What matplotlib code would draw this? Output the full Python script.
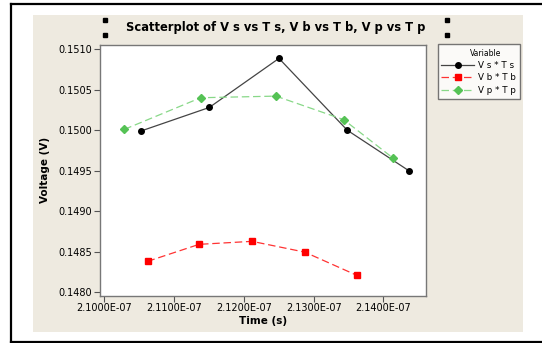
import matplotlib
matplotlib.use("Agg")
import matplotlib.pyplot as plt
from matplotlib.lines import Line2D
from matplotlib.patches import Rectangle
from matplotlib.ticker import FuncFormatter

# data
t_s = [2.10526e-7, 2.11504e-7, 2.12503e-7, 2.13481e-7, 2.14365e-7]
v_s = [0.14999, 0.15028, 0.150885, 0.15000, 0.14950]

t_b = [2.10619e-7, 2.11358e-7, 2.12117e-7, 2.12873e-7, 2.13622e-7]
v_b = [0.148383, 0.148593, 0.148630, 0.148497, 0.148210]

t_p = [2.10287e-7, 2.11381e-7, 2.12460e-7, 2.13430e-7, 2.14132e-7]
v_p = [0.15001, 0.15040, 0.15042, 0.15013, 0.14966]

x_ticks = [2.10e-7, 2.11e-7, 2.12e-7, 2.13e-7, 2.14e-7]
y_ticks = [0.1480, 0.1485, 0.1490, 0.1495, 0.1500, 0.1505, 0.1510]

W, H = 542, 343
BEIGE = "#EEEAE0"

plt.rcParams["font.family"] = ["DejaVu Sans"]

fig = plt.figure(figsize=(W / 100, H / 100), dpi=100)
fig.patch.set_facecolor("white")


def fx(px):
    return px / W


def fy(py):
    return 1 - py / H


# outer frame (open on the right) and beige panel, behind the axes
for xs, ys in [((11, 542), (4, 4)), ((11, 11), (4, 341.5)), ((11, 542), (341.5, 341.5))]:
    fig.add_artist(Line2D([fx(x) for x in xs], [fy(y) for y in ys], color="black", lw=1.6,
                          transform=fig.transFigure, zorder=-10))
fig.add_artist(Rectangle((fx(33), fy(332)), fx(522.5) - fx(33), fy(15) - fy(332),
                         transform=fig.transFigure, facecolor=BEIGE, edgecolor="none",
                         zorder=-9))

# selection handles
for hx in (105, 447):
    for hy in (20, 35):
        fig.add_artist(Line2D([fx(hx)], [fy(hy)], marker="s", markersize=2.6, color="black",
                              transform=fig.transFigure))

ax = fig.add_axes([fx(100), fy(295.7), fx(426) - fx(100), fy(45) - fy(295.7)])
ax.set_facecolor("white")

ax.plot(t_s, v_s, color="#444444", lw=0.9, marker="o", markersize=4,
        markerfacecolor="black", markeredgecolor="black", label="V s * T s")
ax.plot(t_b, v_b, color="#FF3333", lw=0.9, ls=(0, (6, 3)), marker="s", markersize=4,
        markerfacecolor="#FF0000", markeredgecolor="#FF0000", label="V b * T b")
ax.plot(t_p, v_p, color="#88D888", lw=0.9, ls=(0, (6, 3)), marker="D", markersize=4,
        markerfacecolor="#55C255", markeredgecolor="#55C255", label="V p * T p")

ax.set_xlim(2.09938e-7, 2.1461e-7)
ax.set_ylim(0.14796, 0.15105)
ax.set_xticks(x_ticks)
ax.set_yticks(y_ticks)
ax.xaxis.set_major_formatter(FuncFormatter(lambda v, p: f"{v / 1e-7:.4f}E-07"))
ax.yaxis.set_major_formatter(FuncFormatter(lambda v, p: f"{v:.4f}"))
ax.tick_params(labelsize=7, length=4, width=0.8, color="#555555", direction="out", pad=1.5)
for sp in ax.spines.values():
    sp.set_color("#777777")
    sp.set_linewidth(1.0)

ax.set_xlabel("Time (s)", fontsize=7.5, fontweight="bold", labelpad=2)
ax.set_ylabel("Voltage (V)", fontsize=7.5, fontweight="bold", labelpad=6)

fig.text(fx(276), fy(28), "Scatterplot of V s vs T s, V b vs T b, V p vs T p",
         ha="center", va="center", fontsize=8.3, fontweight="bold")

leg = ax.legend(loc="upper left", bbox_to_anchor=(fx(437.5), fy(44)),
                bbox_transform=fig.transFigure, title=" ", fontsize=6.3,
                title_fontsize=5.5, frameon=True, fancybox=False, handlelength=3.7,
                handletextpad=0.45, borderpad=0.45, labelspacing=0.42, borderaxespad=0)
leg.get_frame().set_edgecolor("#555555")
leg.get_frame().set_linewidth(1.0)
fig.text(fx(486), fy(53.3), "Variable", ha="center", va="center", fontsize=5.5)

fig.savefig("out.png", dpi=100, facecolor=fig.get_facecolor())
